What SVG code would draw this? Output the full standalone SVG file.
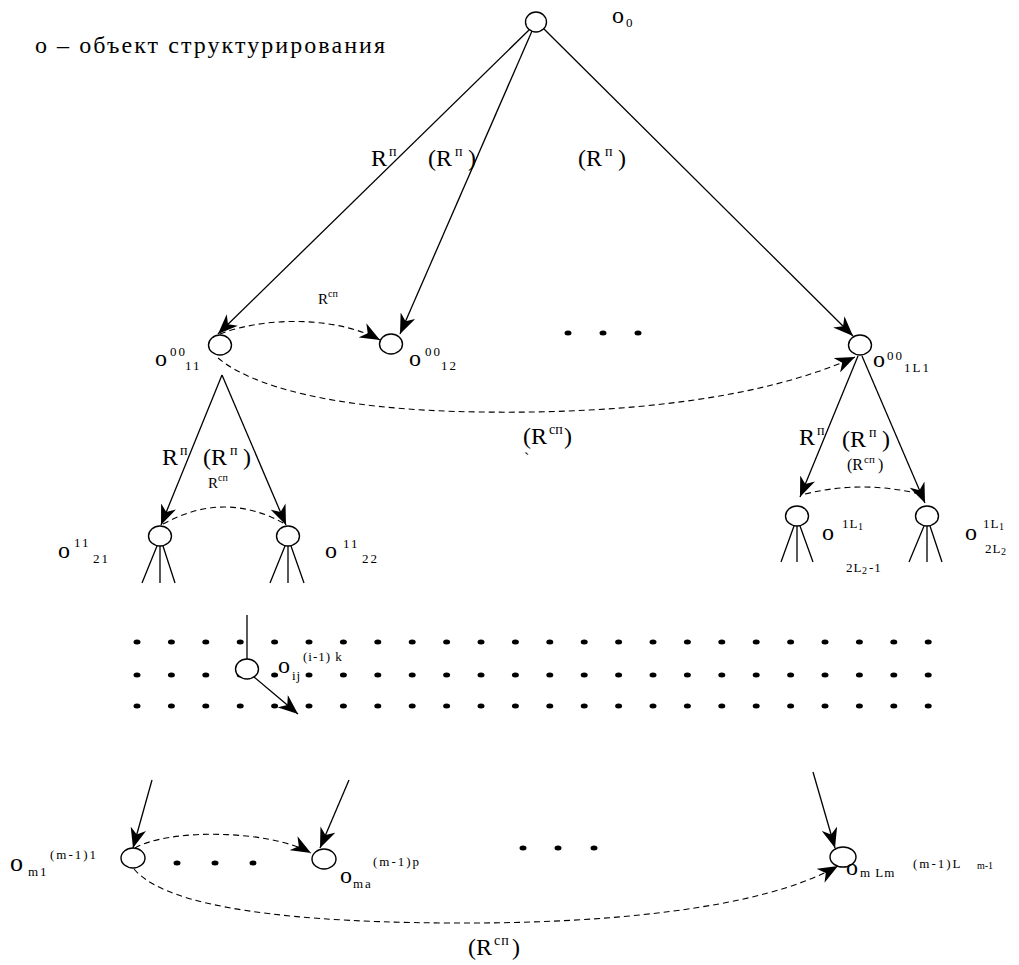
<svg xmlns="http://www.w3.org/2000/svg" width="1019" height="965" viewBox="0 0 1019 965">
<defs>
<style>
text{font-family:'Liberation Serif','Times New Roman',serif;fill:#000}
.b{font-size:24px}
.s{font-size:13px}
.r{font-size:24px}
.p{font-size:14px}
.ln{stroke:#000;stroke-width:1.3;fill:none}
.ds{stroke:#000;stroke-width:1.1;fill:none;stroke-dasharray:6 4}
.nd{fill:#fff;stroke:#000;stroke-width:1.4}
.dot{fill:#000}
</style>
<marker id="ah" viewBox="0 0 20 16" refX="20" refY="8" markerWidth="20" markerHeight="16" markerUnits="userSpaceOnUse" orient="auto"><path d="M0,0 L20,8 L0,16 L6,8 z" fill="#000"/></marker>
</defs>
<rect width="1019" height="965" fill="#fff"/>

<text x="35" y="53" font-family="Liberation Serif, serif" font-size="24" textLength="350" lengthAdjust="spacing">о – объект структурирования</text>

<g id="dots">
<g class="dot">
<ellipse cx="568" cy="333" rx="3.5" ry="2.5"/><ellipse cx="603" cy="333" rx="3.5" ry="2.5"/><ellipse cx="638" cy="333" rx="3.5" ry="2.5"/>
<ellipse cx="177" cy="863" rx="3.5" ry="2.5"/><ellipse cx="215" cy="863" rx="3.5" ry="2.5"/><ellipse cx="253" cy="863" rx="3.5" ry="2.5"/>
<ellipse cx="523" cy="848" rx="3.5" ry="2.5"/><ellipse cx="558" cy="848" rx="3.5" ry="2.5"/><ellipse cx="594" cy="848" rx="3.5" ry="2.5"/>
</g>
<g class="dot" id="grid">
<ellipse cx="137" cy="642" rx="3.5" ry="2.5"/><ellipse cx="171.4" cy="642" rx="3.5" ry="2.5"/><ellipse cx="205.8" cy="642" rx="3.5" ry="2.5"/><ellipse cx="240.2" cy="642" rx="3.5" ry="2.5"/><ellipse cx="274.6" cy="642" rx="3.5" ry="2.5"/><ellipse cx="309" cy="642" rx="3.5" ry="2.5"/><ellipse cx="343.4" cy="642" rx="3.5" ry="2.5"/><ellipse cx="377.8" cy="642" rx="3.5" ry="2.5"/><ellipse cx="412.2" cy="642" rx="3.5" ry="2.5"/><ellipse cx="446.6" cy="642" rx="3.5" ry="2.5"/><ellipse cx="481" cy="642" rx="3.5" ry="2.5"/><ellipse cx="515.4" cy="642" rx="3.5" ry="2.5"/><ellipse cx="549.8" cy="642" rx="3.5" ry="2.5"/><ellipse cx="584.2" cy="642" rx="3.5" ry="2.5"/><ellipse cx="618.6" cy="642" rx="3.5" ry="2.5"/><ellipse cx="653" cy="642" rx="3.5" ry="2.5"/><ellipse cx="687.4" cy="642" rx="3.5" ry="2.5"/><ellipse cx="721.8" cy="642" rx="3.5" ry="2.5"/><ellipse cx="756.2" cy="642" rx="3.5" ry="2.5"/><ellipse cx="790.6" cy="642" rx="3.5" ry="2.5"/><ellipse cx="825" cy="642" rx="3.5" ry="2.5"/><ellipse cx="859.4" cy="642" rx="3.5" ry="2.5"/><ellipse cx="893.8" cy="642" rx="3.5" ry="2.5"/><ellipse cx="928.2" cy="642" rx="3.5" ry="2.5"/>
<ellipse cx="137" cy="675" rx="3.5" ry="2.5"/><ellipse cx="171.4" cy="675" rx="3.5" ry="2.5"/><ellipse cx="205.8" cy="675" rx="3.5" ry="2.5"/><ellipse cx="240.2" cy="675" rx="3.5" ry="2.5"/><ellipse cx="274.6" cy="675" rx="3.5" ry="2.5"/><ellipse cx="309" cy="675" rx="3.5" ry="2.5"/><ellipse cx="343.4" cy="675" rx="3.5" ry="2.5"/><ellipse cx="377.8" cy="675" rx="3.5" ry="2.5"/><ellipse cx="412.2" cy="675" rx="3.5" ry="2.5"/><ellipse cx="446.6" cy="675" rx="3.5" ry="2.5"/><ellipse cx="481" cy="675" rx="3.5" ry="2.5"/><ellipse cx="515.4" cy="675" rx="3.5" ry="2.5"/><ellipse cx="549.8" cy="675" rx="3.5" ry="2.5"/><ellipse cx="584.2" cy="675" rx="3.5" ry="2.5"/><ellipse cx="618.6" cy="675" rx="3.5" ry="2.5"/><ellipse cx="653" cy="675" rx="3.5" ry="2.5"/><ellipse cx="687.4" cy="675" rx="3.5" ry="2.5"/><ellipse cx="721.8" cy="675" rx="3.5" ry="2.5"/><ellipse cx="756.2" cy="675" rx="3.5" ry="2.5"/><ellipse cx="790.6" cy="675" rx="3.5" ry="2.5"/><ellipse cx="825" cy="675" rx="3.5" ry="2.5"/><ellipse cx="859.4" cy="675" rx="3.5" ry="2.5"/><ellipse cx="893.8" cy="675" rx="3.5" ry="2.5"/><ellipse cx="928.2" cy="675" rx="3.5" ry="2.5"/>
<ellipse cx="137" cy="706" rx="3.5" ry="2.5"/><ellipse cx="171.4" cy="706" rx="3.5" ry="2.5"/><ellipse cx="205.8" cy="706" rx="3.5" ry="2.5"/><ellipse cx="240.2" cy="706" rx="3.5" ry="2.5"/><ellipse cx="274.6" cy="706" rx="3.5" ry="2.5"/><ellipse cx="309" cy="706" rx="3.5" ry="2.5"/><ellipse cx="343.4" cy="706" rx="3.5" ry="2.5"/><ellipse cx="377.8" cy="706" rx="3.5" ry="2.5"/><ellipse cx="412.2" cy="706" rx="3.5" ry="2.5"/><ellipse cx="446.6" cy="706" rx="3.5" ry="2.5"/><ellipse cx="481" cy="706" rx="3.5" ry="2.5"/><ellipse cx="515.4" cy="706" rx="3.5" ry="2.5"/><ellipse cx="549.8" cy="706" rx="3.5" ry="2.5"/><ellipse cx="584.2" cy="706" rx="3.5" ry="2.5"/><ellipse cx="618.6" cy="706" rx="3.5" ry="2.5"/><ellipse cx="653" cy="706" rx="3.5" ry="2.5"/><ellipse cx="687.4" cy="706" rx="3.5" ry="2.5"/><ellipse cx="721.8" cy="706" rx="3.5" ry="2.5"/><ellipse cx="756.2" cy="706" rx="3.5" ry="2.5"/><ellipse cx="790.6" cy="706" rx="3.5" ry="2.5"/><ellipse cx="825" cy="706" rx="3.5" ry="2.5"/><ellipse cx="859.4" cy="706" rx="3.5" ry="2.5"/><ellipse cx="893.8" cy="706" rx="3.5" ry="2.5"/><ellipse cx="928.2" cy="706" rx="3.5" ry="2.5"/>
</g>
</g>

<g id="connectors">
<path class="ln" d="M529,30 L218,334" marker-end="url(#ah)"/>
<path class="ln" d="M532,31 L400,334" marker-end="url(#ah)"/>
<path class="ln" d="M544,29 L853,336" marker-end="url(#ah)"/>
<path class="ln" d="M222,375 L161,525" marker-end="url(#ah)"/>
<path class="ln" d="M222,375 L286,525" marker-end="url(#ah)"/>
<path class="ln" d="M858,356 L800,497" marker-end="url(#ah)"/>
<path class="ln" d="M862,356 L925,503" marker-end="url(#ah)"/>
<path class="ln" d="M152,780 L133,848" marker-end="url(#ah)"/>
<path class="ln" d="M349,780 L320,848" marker-end="url(#ah)"/>
<path class="ln" d="M813,772 L835,848" marker-end="url(#ah)"/>
<path class="ln" d="M254,677 L298,714" marker-end="url(#ah)"/>
<path class="ln" d="M247,615 L247,660"/>
<path class="ds" d="M220,334 C270,315 340,318 380,340" marker-end="url(#ah)"/>
<path class="ds" d="M218,358 C250,385 330,410 480,412 C620,414 760,400 855,357" marker-end="url(#ah)"/>
<path class="ds" d="M163,524 Q225,490 285,524"/>
<path class="ds" d="M805,494 Q862,480 920,494"/>
<path class="ds" d="M135,848 C170,828 270,830 311,853" marker-end="url(#ah)"/>
<path class="ds" d="M134,869 C160,900 250,922 450,923 C600,924 760,910 838,866" marker-end="url(#ah)"/>
<g class="ln">
<path d="M157,546 L142,583 M160,546 L160,583 M163,546 L175,583"/>
<path d="M285,546 L270,583 M288,546 L288,583 M291,546 L304,583"/>
<path d="M794,526 L781,562 M797,526 L797,562 M800,526 L813,562"/>
<path d="M924,526 L909,562 M927,526 L927,562 M930,526 L942,562"/>
</g>
</g>

<g font-family="Liberation Serif, serif">
<g id="n0"><ellipse class="nd" cx="536" cy="22" rx="10.5" ry="10"/>
<text><tspan class="b" x="612" y="23">o</tspan><tspan class="s" x="626" y="27">0</tspan></text></g>
<g id="n1"><ellipse class="nd" cx="220" cy="345" rx="11.5" ry="10"/>
<text><tspan class="b" x="155" y="366">o</tspan><tspan class="s" x="170" y="356" letter-spacing="2">00</tspan><tspan class="s" x="185" y="370" letter-spacing="2">11</tspan></text></g>
<g id="n2"><ellipse class="nd" cx="391" cy="344" rx="11.5" ry="10"/>
<text><tspan class="b" x="409" y="366">o</tspan><tspan class="s" x="425" y="356" letter-spacing="2">00</tspan><tspan class="s" x="441" y="370" letter-spacing="2">12</tspan></text></g>
<g id="n3"><ellipse class="nd" cx="860" cy="345" rx="11.5" ry="10"/>
<text><tspan class="b" x="873" y="367">o</tspan><tspan class="s" x="887" y="360" letter-spacing="2">00</tspan><tspan class="s" x="904" y="372" letter-spacing="2">1L1</tspan></text></g>
<g id="n4"><ellipse class="nd" cx="160" cy="536" rx="11.5" ry="10"/>
<text><tspan class="b" x="58" y="558">o</tspan><tspan class="s" x="74" y="547" letter-spacing="2">11</tspan><tspan class="s" x="93" y="563" letter-spacing="2">21</tspan></text></g>
<g id="n5"><ellipse class="nd" cx="288" cy="536" rx="11.5" ry="10"/>
<text><tspan class="b" x="325" y="558">o</tspan><tspan class="s" x="343" y="548" letter-spacing="2">11</tspan><tspan class="s" x="362" y="563" letter-spacing="2">22</tspan></text></g>
<g id="n6"><ellipse class="nd" cx="797" cy="516" rx="11.5" ry="10"/>
<text><tspan class="b" x="822" y="540">o</tspan><tspan class="s" x="842" y="528" letter-spacing="1">1L</tspan><tspan x="858" y="530" font-size="10">1</tspan><tspan class="s" x="846" y="572" letter-spacing="1">2L</tspan><tspan x="862" y="574" font-size="10">2</tspan><tspan class="s" x="869" y="572" letter-spacing="1">-1</tspan></text></g>
<g id="n7"><ellipse class="nd" cx="927" cy="516" rx="11.5" ry="10"/>
<text><tspan class="b" x="965" y="540">o</tspan><tspan class="s" x="983" y="528" letter-spacing="1">1L</tspan><tspan x="999" y="530" font-size="10">1</tspan><tspan class="s" x="985" y="553" letter-spacing="1">2L</tspan><tspan x="1001" y="555" font-size="10">2</tspan></text></g>
<g id="n8"><ellipse class="nd" cx="247" cy="669" rx="11.5" ry="10"/>
<text><tspan class="b" x="278" y="673">o</tspan><tspan class="s" x="292" y="680" letter-spacing="1">ij</tspan><tspan class="s" x="303" y="661" letter-spacing="1">(i-1) k</tspan></text></g>
<g id="n9"><ellipse class="nd" cx="133" cy="858" rx="12" ry="10"/>
<text><tspan font-size="26" x="10" y="871">o</tspan><tspan class="s" x="28" y="876" letter-spacing="2">m1</tspan><tspan class="s" x="50" y="859" letter-spacing="2">(m-1)1</tspan></text></g>
<g id="n10"><ellipse class="nd" cx="324" cy="859" rx="12" ry="10"/>
<text><tspan class="b" x="340" y="883">o</tspan><tspan class="s" x="353" y="888" letter-spacing="2">ma</tspan><tspan class="s" x="373" y="866" letter-spacing="2">(m-1)p</tspan></text></g>
<g id="n11"><ellipse class="nd" cx="843" cy="857" rx="13" ry="10"/>
<text><tspan class="b" x="846" y="875">o</tspan><tspan class="s" x="860" y="877" letter-spacing="1">m Lm</tspan><tspan class="s" x="913" y="868" letter-spacing="2">(m-1)L</tspan><tspan x="977" y="869" font-size="10">m-1</tspan></text></g>

<g id="labels">
<text class="r"><tspan x="371" y="166">R</tspan><tspan class="p" x="389" y="156">п</tspan></text>
<text class="r"><tspan x="428" y="166">(R</tspan><tspan class="p" x="455" y="156">п</tspan><tspan x="468" y="166">)</tspan></text>
<text class="r"><tspan x="578" y="166">(R</tspan><tspan class="p" x="605" y="156">п</tspan><tspan x="618" y="166">)</tspan></text>
<text><tspan x="318" y="304" font-size="15">R</tspan><tspan x="328" y="297" font-size="10">сп</tspan></text>
<text class="r"><tspan x="523" y="444">(R</tspan><tspan class="p" x="549" y="434">сп</tspan><tspan x="564" y="444">)</tspan></text>
<text x="524" y="464" font-size="16">`</text>
<text class="r"><tspan x="162" y="465">R</tspan><tspan class="p" x="180" y="455">п</tspan></text>
<text class="r"><tspan x="203" y="465">(R</tspan><tspan class="p" x="230" y="455">п</tspan><tspan x="243" y="465">)</tspan></text>
<text><tspan x="208" y="488" font-size="15">R</tspan><tspan x="218" y="481" font-size="10">сп</tspan></text>
<text class="r"><tspan x="799" y="445">R</tspan><tspan class="p" x="817" y="435">п</tspan></text>
<text class="r"><tspan x="842" y="447">(R</tspan><tspan class="p" x="869" y="437">п</tspan><tspan x="882" y="447">)</tspan></text>
<text><tspan x="847" y="470" font-size="16">(R</tspan><tspan x="864" y="463" font-size="11">сп</tspan><tspan x="878" y="470" font-size="16">)</tspan></text>
<text class="r"><tspan x="468" y="955">(R</tspan><tspan class="p" x="494" y="945" letter-spacing="1">сп</tspan><tspan x="512" y="955">)</tspan></text>
</g>
</g>
</svg>
